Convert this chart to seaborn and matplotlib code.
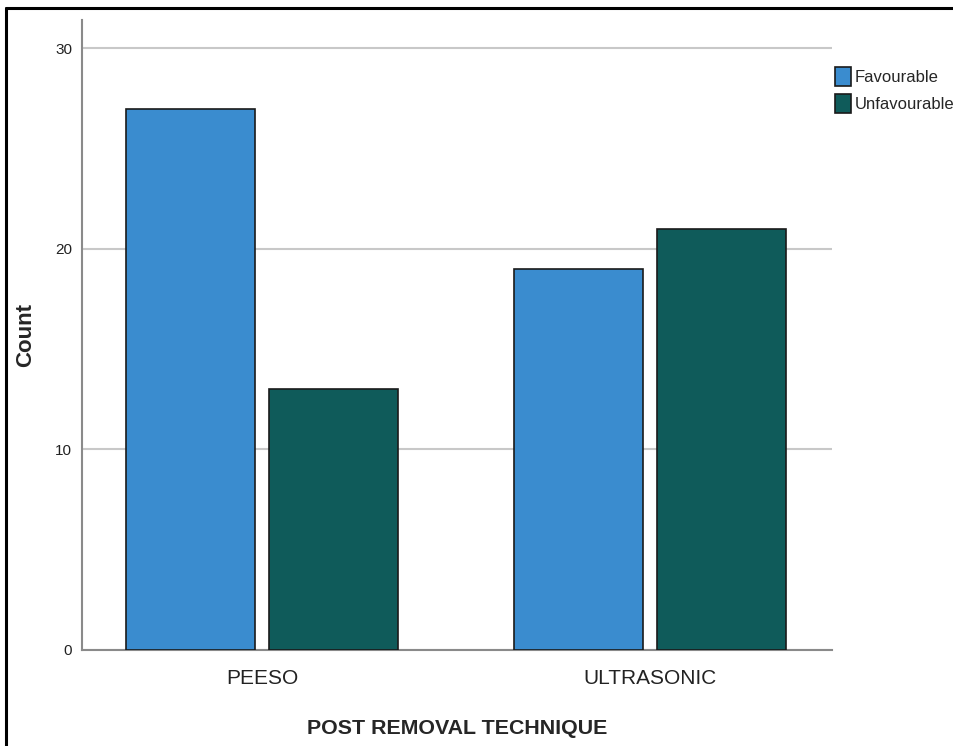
import pandas as pd
import matplotlib.pyplot as plt
import seaborn as sns
from matplotlib.lines import Line2D

techniques = ["PEESO", "ULTRASONIC"]
outcomes = ["Favourable", "Unfavourable"]
favourable = [27, 19]
unfavourable = [13, 21]

data = pd.DataFrame({
    "Technique": techniques * 2,
    "Outcome": [outcomes[0]] * 2 + [outcomes[1]] * 2,
    "Count": favourable + unfavourable,
})

sns.set_style("white")
plt.rcParams['font.family'] = ['Liberation Sans', 'DejaVu Sans']

fig = plt.figure(figsize=(9.54, 7.46), dpi=100)
ax = fig.add_axes([0.086, 0.1287, 0.786, 0.844])

palette = {"Favourable": "#3a8ccf", "Unfavourable": "#0f5b5a"}
sns.barplot(data=data, x="Technique", y="Count", hue="Outcome", order=techniques,
            hue_order=outcomes, palette=palette, width=0.737, gap=0.1,
            edgecolor="#1a1a1a", linewidth=1.2, saturation=1, ax=ax, zorder=3)

ax.set_xlim(-0.464, 1.469)
ax.set_ylim(0, 31.4)
ax.set_yticks([0, 10, 20, 30])
ax.yaxis.grid(True, color="#c8c8c8", linewidth=1.5, zorder=0)
ax.set_axisbelow(True)

for side in ["top", "right"]:
    ax.spines[side].set_visible(False)
for side in ["left", "bottom"]:
    ax.spines[side].set_color("#8a8a8a")
    ax.spines[side].set_linewidth(1.5)

ax.tick_params(axis="y", labelsize=11, length=0, pad=7, labelcolor="#222222")
ax.tick_params(axis="x", labelsize=15, length=0, pad=14, labelcolor="#222222")

ax.set_ylabel("Count", fontsize=16, fontweight="bold", labelpad=14)
ax.set_xlabel("POST REMOVAL TECHNIQUE", fontsize=15.4, fontweight="bold", labelpad=22)

ax.legend(loc="upper left", bbox_to_anchor=(0.995, 0.936), frameon=False,
          fontsize=12, handlelength=0.95, handleheight=1.35, handletextpad=0.25,
          labelspacing=0.5, borderaxespad=0)
for h in ax.get_legend().get_patches():
    h.set_edgecolor("#1a1a1a")

# outer frame of the picture (top and left edges visible)
fig.add_artist(Line2D([6 / 954, 1], [1 - 8 / 746, 1 - 8 / 746], transform=fig.transFigure,
                      color="black", linewidth=2.2))
fig.add_artist(Line2D([6 / 954, 6 / 954], [0, 1 - 8 / 746], transform=fig.transFigure,
                      color="black", linewidth=2.2))

fig.savefig("out.png", dpi=100)
